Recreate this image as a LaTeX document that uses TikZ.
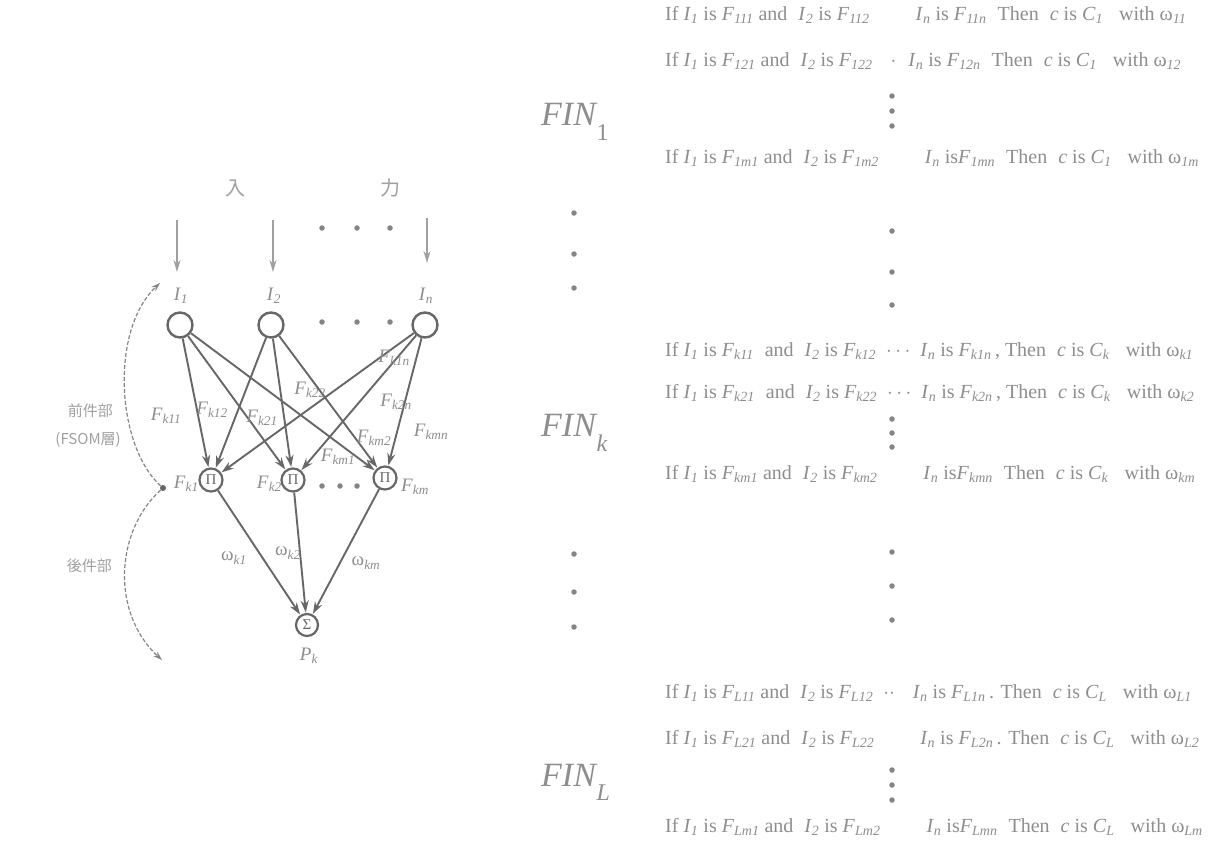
\documentclass[tikz,border=0pt]{standalone}
\usepackage{fontspec}
\setmainfont{Liberation Serif}
\newfontfamily\cjk{Noto Sans CJK JP}
\usetikzlibrary{arrows.meta}
\definecolor{rulegrey}{HTML}{8E8E8E}
\definecolor{edgegrey}{HTML}{676767}
\definecolor{lightgrey}{HTML}{A0A0A0}
\definecolor{dotgrey}{HTML}{858585}
\newcommand\Iv[2]{\textit{#1}\textsubscript{\textit{#2}}}
\newcommand\Wv[1]{ω\textsubscript{\textit{#1}}}
\newcommand\Fin[1]{\textit{FIN}\kern-1pt\raisebox{-0.42em}{\fontsize{24}{24}\selectfont #1}}
\newcommand\gap{\hspace{0.55em}}
\begin{document}
\begin{tikzpicture}[x=1pt,y=-1pt,
  rule/.style={anchor=west,text=rulegrey,font=\fontsize{20}{22}\selectfont,inner sep=0pt},
  fin/.style={text=rulegrey,font=\fontsize{34}{36}\selectfont,inner sep=0pt},
  neuron/.style={circle,draw=edgegrey,line width=2.4pt,minimum size=25pt,inner sep=0pt},
  pinode/.style={circle,draw=edgegrey,line width=2.2pt,minimum size=23pt,inner sep=0pt,font=\fontsize{15}{15}\selectfont,text=edgegrey},
  conn/.style={draw=edgegrey,line width=1.9pt,-{Stealth[length=12pt,width=8pt]},shorten >=0.5pt},
  inarrow/.style={draw=lightgrey,line width=1.6pt,-{Stealth[length=12pt,width=7pt]}},
  lab/.style={text=rulegrey,font=\fontsize{19}{21}\selectfont,inner sep=0pt},
  cjklab/.style={text=lightgrey,font=\cjk\fontsize{15}{18}\selectfont,inner sep=0pt},
  dotn/.style={circle,fill=dotgrey,minimum size=5.5pt,inner sep=0pt},
  bracearc/.style={draw=edgegrey!80,line width=1.2pt,dash pattern=on 4pt off 2pt,-{Stealth[length=9pt,width=6pt]}}
]
\useasboundingbox (0,0) rectangle (1220,849);
\fill[white] (0,0) rectangle (1220,849);

% ---------------- left network ----------------
\node[cjklab,font=\cjk\fontsize{20}{22}\selectfont] (ru) at (235,188) {入};
\node[cjklab,font=\cjk\fontsize{20}{22}\selectfont] (li) at (390,188) {力};

\coordinate (a1s) at (177,220); \coordinate (a1e) at (177,272);
\coordinate (a2s) at (273,220); \coordinate (a2e) at (273,272);
\coordinate (a3s) at (427,218); \coordinate (a3e) at (427,263);
\draw[inarrow] (a1s) -- (a1e);
\draw[inarrow] (a2s) -- (a2e);
\draw[inarrow] (a3s) -- (a3e);
\node[dotn] (td1) at (322,228) {};
\node[dotn] (td2) at (357,228) {};
\node[dotn] (td3) at (390,228) {};

\node[lab] (l1) at (181,296) {\Iv{I}{1}};
\node[lab] (l2) at (274,296) {\Iv{I}{2}};
\node[lab] (ln) at (426,296) {\Iv{I}{n}};

\node[neuron] (i1) at (180,325) {};
\node[neuron] (i2) at (271,325) {};
\node[neuron] (in) at (425,325) {};
\node[dotn] (md1) at (322,322) {};
\node[dotn] (md2) at (357,322) {};
\node[dotn] (md3) at (390,322) {};

\node[pinode] (p1) at (211,480) {Π};
\node[pinode] (p2) at (293,480) {Π};
\node[pinode] (pm) at (385,478) {Π};
\node[dotn] (pd1) at (322,486) {};
\node[dotn] (pd2) at (340,486) {};
\node[dotn] (pd3) at (357,486) {};
\node[lab,anchor=east] (lp1) at (199,484) {\Iv{F}{k1}};
\node[lab,anchor=east] (lp2) at (282,484) {\Iv{F}{k2}};
\node[lab,anchor=west] (lpm) at (401,487) {\Iv{F}{km}};

\node[pinode,minimum size=22pt] (sg) at (307,625) {Σ};
\node[lab] (pk) at (309,656) {\Iv{P}{k}};

% connections input -> Pi
\draw[conn] (i1) -- (p1);
\draw[conn] (i1) -- (p2);
\draw[conn] (i1) -- (pm);
\draw[conn] (i2) -- (p1);
\draw[conn] (i2) -- (p2);
\draw[conn] (i2) -- (pm);
\draw[conn] (in) -- (p1);
\draw[conn] (in) -- (p2);
\draw[conn] (in) -- (pm);
% Pi -> Sigma
\draw[conn] (p1) -- (sg);
\draw[conn] (p2) -- (sg);
\draw[conn] (pm) -- (sg);

% edge labels
\node[lab] (f11) at (166,416) {\Iv{F}{k11}};
\node[lab] (f12) at (212,410) {\Iv{F}{k12}};
\node[lab] (f21) at (262,418) {\Iv{F}{k21}};
\node[lab] (f22) at (310,390) {\Iv{F}{k22}};
\node[lab] (f1n) at (394,358) {\Iv{F}{k1n}};
\node[lab] (f2n) at (396,402) {\Iv{F}{k2n}};
\node[lab] (fmn) at (431,432) {\Iv{F}{kmn}};
\node[lab] (fm2) at (374,438) {\Iv{F}{km2}};
\node[lab] (fm1) at (338,457) {\Iv{F}{km1}};

\node[lab] (w1) at (234,558) {\Wv{k1}};
\node[lab] (w2) at (288,553) {\Wv{k2}};
\node[lab] (wm) at (366,563) {\Wv{km}};

% left bracket arcs
\node[dotn,minimum size=6pt,fill=edgegrey] (jn) at (163,488) {};
\coordinate (topend) at (160,283);
\coordinate (botend) at (162,660);
\draw[bracearc] (jn) .. controls (116,445) and (110,330) .. (topend);
\draw[bracearc] (jn) .. controls (116,530) and (110,612) .. (botend);

\node[cjklab,anchor=east] (qj) at (113,411) {前件部};
\node[cjklab,anchor=east] (fs) at (121,440) {(FSOM層)};
\node[cjklab,anchor=east] (hj) at (112,566) {後件部};

% ---------------- FIN labels ----------------
\node[fin,anchor=west] (fin1) at (541,122) {\Fin{1}};
\node[fin,anchor=west] (fink) at (541,433) {\Fin{\textit{k}}};
\node[fin,anchor=west] (finl) at (541,782) {\Fin{\textit{L}}};

% column dots between FIN labels
\node[dotn] (ld1) at (574,213) {};
\node[dotn] (ld2) at (574,254) {};
\node[dotn] (ld3) at (574,288) {};
\node[dotn] (ld4) at (574,554) {};
\node[dotn] (ld5) at (574,592) {};
\node[dotn] (ld6) at (574,627) {};

\node[dotn] (rd1) at (892,231) {};
\node[dotn] (rd2) at (892,272) {};
\node[dotn] (rd3) at (892,305) {};
\node[dotn] (rd4) at (892,552) {};
\node[dotn] (rd5) at (892,586) {};
\node[dotn] (rd6) at (892,620) {};

% ---------------- rules ----------------
\node[rule] (r11) at (665,15) {If \Iv{I}{1} is \Iv{F}{111} and\gap\Iv{I}{2} is \Iv{F}{112}\hspace{2.3em}\Iv{I}{n} is \Iv{F}{11n}\gap Then\gap\textit{c} is \Iv{C}{1}\gap\ with \Wv{11}};
\node[rule] (r12) at (665,61) {If \Iv{I}{1} is \Iv{F}{121} and\gap\Iv{I}{2} is \Iv{F}{122}\hspace{0.9em}$\cdot$\hspace{0.6em}\Iv{I}{n} is \Iv{F}{12n}\gap Then\gap\textit{c} is \Iv{C}{1}\gap\ with \Wv{12}};
\node[dotn] (v11) at (892,96) {};
\node[dotn] (v12) at (892,111) {};
\node[dotn] (v13) at (892,126) {};
\node[rule] (r1m) at (665,158) {If \Iv{I}{1} is \Iv{F}{1m1} and\gap\Iv{I}{2} is \Iv{F}{1m2}\hspace{2.3em}\Iv{I}{n} is\Iv{F}{1mn}\gap Then\gap\textit{c} is \Iv{C}{1}\gap\ with \Wv{1m}};

\node[rule] (rk1) at (665,351) {If \Iv{I}{1} is \Iv{F}{k11}\gap and\gap\Iv{I}{2} is \Iv{F}{k12}\ \ $\cdots$\ \ \Iv{I}{n} is \Iv{F}{k1n}\,, Then\gap\textit{c} is \Iv{C}{k}\gap\ with \Wv{k1}};
\node[rule] (rk2) at (665,393) {If \Iv{I}{1} is \Iv{F}{k21}\gap and\gap\Iv{I}{2} is \Iv{F}{k22}\ \ $\cdots$\ \ \Iv{I}{n} is \Iv{F}{k2n}\,, Then\gap\textit{c} is \Iv{C}{k}\gap\ with \Wv{k2}};
\node[dotn] (vk1) at (892,419) {};
\node[dotn] (vk2) at (892,433) {};
\node[dotn] (vk3) at (892,447) {};
\node[rule] (rkm) at (665,474) {If \Iv{I}{1} is \Iv{F}{km1} and\gap\Iv{I}{2} is \Iv{F}{km2}\hspace{2.3em}\Iv{I}{n} is\Iv{F}{kmn}\gap Then\gap\textit{c} is \Iv{C}{k}\gap\ with \Wv{km}};

\node[rule] (rl1) at (665,693) {If \Iv{I}{1} is \Iv{F}{L11} and\gap\Iv{I}{2} is \Iv{F}{L12}\ \ $\cdot\cdot$\hspace{0.9em}\Iv{I}{n} is \Iv{F}{L1n}\,. Then\gap\textit{c} is \Iv{C}{L}\gap\ with \Wv{L1}};
\node[rule] (rl2) at (665,739) {If \Iv{I}{1} is \Iv{F}{L21} and\gap\Iv{I}{2} is \Iv{F}{L22}\hspace{2.3em}\Iv{I}{n} is \Iv{F}{L2n}\,. Then\gap\textit{c} is \Iv{C}{L}\gap\ with \Wv{L2}};
\node[dotn] (vl1) at (892,770) {};
\node[dotn] (vl2) at (892,785) {};
\node[dotn] (vl3) at (892,800) {};
\node[rule] (rlm) at (665,827) {If \Iv{I}{1} is \Iv{F}{Lm1} and\gap\Iv{I}{2} is \Iv{F}{Lm2}\hspace{2.3em}\Iv{I}{n} is\Iv{F}{Lmn}\gap Then\gap\textit{c} is \Iv{C}{L}\gap\ with \Wv{Lm}};
\end{tikzpicture}
\end{document}
